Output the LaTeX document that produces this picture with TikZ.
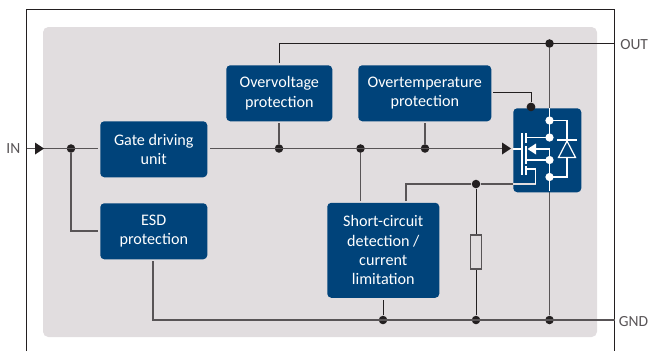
\documentclass[tikz,border=0pt]{standalone}
\usepackage{fontspec}
\setmainfont{Carlito}
\usetikzlibrary{arrows.meta}
\definecolor{panel}{HTML}{E1DDDF}
\definecolor{blu}{HTML}{00437A}
\definecolor{wire}{HTML}{585456}
\definecolor{inkk}{HTML}{231F20}
\tikzset{
  x=0.75pt,y=-0.75pt,
  blk/.style={fill=blu,draw=none,rounded corners=3pt,text=white,align=center,font=\fontsize{12.1pt}{14.5pt}\selectfont,inner sep=0pt,anchor=north west},
  wr/.style={draw=wire,line width=0.85pt},
  wrd/.style={draw=inkk,line width=0.75pt},
  dot/.style={circle,fill=inkk,inner sep=0pt,minimum size=6.4pt},
  wht/.style={draw=white,line width=0.9pt},
  whtd/.style={circle,fill=white,inner sep=0pt,minimum size=6.2pt},
  lab/.style={text=wire,font=\fontsize{11.6pt}{13pt}\selectfont,inner sep=0pt}
}
\begin{document}
\begin{tikzpicture}
\useasboundingbox (0,0) rectangle (648,351);
\fill[panel,rounded corners=4pt] (43,27) rectangle (597,337);
\draw[wrd,line width=0.9pt] (26.5,351) -- (26.5,9.5) -- (614.5,9.5) -- (614.5,351);
% junctions
\coordinate (in) at (26.5,148.5);
\coordinate (out) at (614.5,43.5);
\coordinate (gnd) at (614.5,320);
\node[dot] (j1) at (71,148.5) {};
\node[dot] (j2) at (279,148.5) {};
\node[dot] (j3) at (360.5,148.5) {};
\node[dot] (j4) at (425,148.5) {};
\node[dot] (j5) at (549.5,43.5) {};
\node[dot] (j6) at (531,107) {};
\node[dot] (j7) at (476,184) {};
\node[dot] (j8) at (383,320) {};
\node[dot] (j9) at (476,320) {};
\node[dot] (j10) at (549.5,320) {};
\coordinate (esdin) at (98,231);
\coordinate (ifet) at (513,149);
\coordinate (tfet) at (549.5,108);
% wires
\draw[wr] (in) -- (98,148.5);
\draw[wr] (j1) |- (esdin);
\draw[wr] (210,148.5) -- (505,148.5);
\draw[wr] (279,123) -- (j2);
\draw[wr] (425,123) -- (j4);
\draw[wr] (360.5,201) -- (j3);
\draw[wrd] (279,63) -- (279,43.5) -- (out);
\draw[wrd] (493,92.5) -- (531,92.5) -- (j6);
\draw[wr] (j5) -- (j10);
\draw[wr] (406,201) |- (j7) -- (536,184);
\draw[wrd] (j7) -- (j9);
\draw[wr] (153,261) |- (gnd);
\draw[wrd] (383,300) -- (j8);
% resistor
\node[draw=wire,fill=panel,line width=1.1pt,minimum width=8.6pt,minimum height=25.5pt,inner sep=0pt] (res) at (476,252) {};
% blocks
\node[blk,minimum width=80.25pt,minimum height=42pt] (gate) at (100,121) {Gate driving\\unit};
\node[blk,minimum width=80.25pt,minimum height=42pt] (esd) at (100,203) {ESD\\protection};
\node[blk,minimum width=79.5pt,minimum height=42pt] (ov) at (226,65) {Overvoltage\\protection};
\node[blk,minimum width=99.75pt,minimum height=42pt] (ot) at (358,65) {Overtemperature\\protection};
\node[blk,minimum width=84pt,minimum height=71.25pt] (sc) at (327,202.5) {Short-circuit\\detection /\\current\\limitation};
\node[blk,minimum width=51pt,minimum height=63pt] (fet) at (513,108) {};
\node[dot] at (531,107) {};
% FET
\draw[wht] (549.5,108) -- (549.5,137.5);
\draw[wht] (549.5,149) -- (549.5,191);
\draw[draw=panel,line width=0.85pt] (513,184) -- (535.7,184);
\draw[wht] (549.5,120.5) -| (567,177) -- (549.5,177);
\draw[wht,fill=blu] (567,141) -- (575.5,157.5) -- (558.5,157.5) -- cycle;
\draw[wht] (557,140) -- (577,140);
\draw[wht] (513,149) -- (522,149);
\draw[wht] (522,133) -- (522,175);
\draw[wht] (526,133) -- (526,143);
\draw[wht] (526,146) -- (526,164);
\draw[wht] (526,166) -- (526,175);
\draw[wht] (526,137.5) -- (549.5,137.5);
\draw[wht] (526,160) -- (549.5,160);
\draw[wht] (534,149) -- (549.5,149);
\fill[white] (527.5,149) -- (536,143.5) -- (536,154.5) -- cycle;
\draw[wht] (526,169) -- (535.7,169) -- (535.7,184);
\node[whtd] at (549.5,120.5) {};
\node[whtd] at (549.5,137.5) {};
\node[whtd] at (549.5,160) {};
\node[whtd] at (549.5,177) {};
% arrow
\fill[inkk] (44,148.5) -- (35,142.5) -- (35,154.5) -- cycle;
\fill[inkk] (511,148.5) -- (502,142.5) -- (502,154.5) -- cycle;
% labels
\node[lab,anchor=east] (inl) at (20.5,149) {IN};
\node[lab,anchor=west] (outl) at (620,45) {OUT};
\node[lab,anchor=west] (gndl) at (618.5,321.5) {GND};
\end{tikzpicture}
\end{document}
